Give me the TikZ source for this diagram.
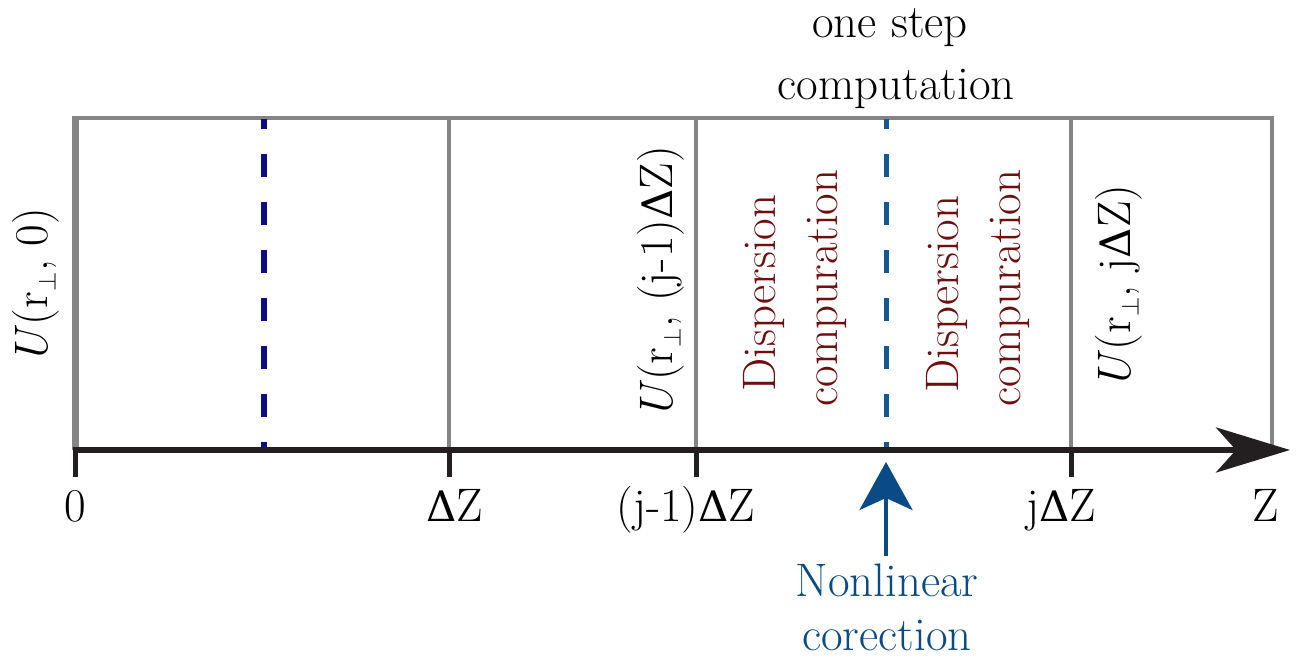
\documentclass[tikz,border=0pt]{standalone}
\usepackage{fontspec}
\newfontfamily\dvserif{DejaVu Serif}
\usetikzlibrary{arrows.meta}
\definecolor{boxgray}{RGB}{133,133,133}
\definecolor{axisblack}{RGB}{35,31,32}
\definecolor{navydash}{RGB}{12,12,135}
\definecolor{steeldash}{RGB}{22,88,142}
\definecolor{nlblue}{RGB}{10,74,133}
\definecolor{dispred}{RGB}{110,15,15}
\newcommand{\DZ}{{\dvserif\fontsize{42}{50}\selectfont Δ}Z}
\begin{document}
\begin{tikzpicture}[x=1pt,y=1pt,
  lbl/.style={font=\fontsize{47}{56}\selectfont, inner sep=0pt},
  vlbl/.style={lbl, rotate=90, anchor=base},
  displbl/.style={vlbl, text=dispred},
  boxline/.style={draw=boxgray, line width=4.5pt},
  ticks/.style={draw=axisblack, line width=5pt},
  dashline/.style={line width=6pt, dash pattern=on 23pt off 25pt, dash phase=13pt}]
\useasboundingbox (0,0) rectangle (1296,668);
% coordinates on the axis
\coordinate (a0) at (75,218);
\coordinate (a1) at (449,218);
\coordinate (a2) at (696,218);
\coordinate (a3) at (1071,218);
\coordinate (a4) at (1272,218);
\coordinate (tip) at (1290,218);
% coordinates on the top line
\coordinate (t0) at (75,550);
\coordinate (t1) at (449,550);
\coordinate (t2) at (696,550);
\coordinate (t3) at (1071,550);
\coordinate (t4) at (1272,550);
% dashed lines
\coordinate (d1t) at (264,549);
\coordinate (d1b) at (264,216);
\coordinate (d2t) at (886,549);
\coordinate (d2b) at (886,216);
% box
\draw[boxline] (t0) -- (t4) -- (a4);
\draw[boxline] (t1) -- (a1);
\draw[boxline] (t2) -- (a2);
\draw[boxline] (t3) -- (a3);
\draw[draw=boxgray, line width=7pt] (a0) -- ([yshift=2.25pt]t0);
% dashed lines
\draw[dashline, draw=navydash] (d1t) -- (d1b);
\draw[dashline, draw=steeldash, line width=5pt] (d2t) -- (d2b);
% axis
\draw[draw=axisblack, line width=6pt, -{Stealth[length=74pt, width=45pt, inset=20pt]}] ([xshift=-2.5pt]a0) -- (tip);
\draw[ticks] (a0) -- ++(0,-27);
\draw[ticks] (a1) -- ++(0,-27);
\draw[ticks] (a2) -- ++(0,-27);
\draw[ticks] (a3) -- ++(0,-27);
% axis labels
\node[lbl, anchor=base] (l0) at (75,146) {0};
\node[lbl, anchor=base] (l1) at (455,146) {\DZ};
\node[lbl, anchor=base] (l2) at (686,146) {(j-1)\DZ};
\node[lbl, anchor=base] (l3) at (1061,146) {j\DZ};
\node[lbl, anchor=base] (l4) at (1266,146) {Z};
% top label
\node[lbl, anchor=base] (top1) at (890,630) {one step};
\node[lbl, anchor=base] (top2) at (896,568) {computation};
% vertical labels
\node[vlbl] (u0) at (47,382) {\textit{U}(r$_{\perp}$, 0)};
\node[vlbl] (u1) at (672,385) {\textit{U}(r$_{\perp}$,\ (j-1)\DZ)};
\node[vlbl] (u2) at (1130,381) {\textit{U}(r$_{\perp}$, j\DZ)};
\node[displbl] (dA1) at (775,375) {Dispersion};
\node[displbl] (dA2) at (837,380) {compuration};
\node[displbl] (dB1) at (958,374) {Dispersion};
\node[displbl] (dB2) at (1020,380) {compuration};
% nonlinear correction
\node[lbl, anchor=base, text=nlblue] (nl1) at (887,71) {Nonlinear};
\node[lbl, anchor=base, text=nlblue] (nl2) at (887,17) {corection};
\coordinate (nltip) at (886,206);
\draw[draw=nlblue, line width=4pt, -{Stealth[length=48pt, width=53pt, inset=12pt]}] (nl1.north -| nltip) ++(0,8) -- (nltip);
\end{tikzpicture}
\end{document}
